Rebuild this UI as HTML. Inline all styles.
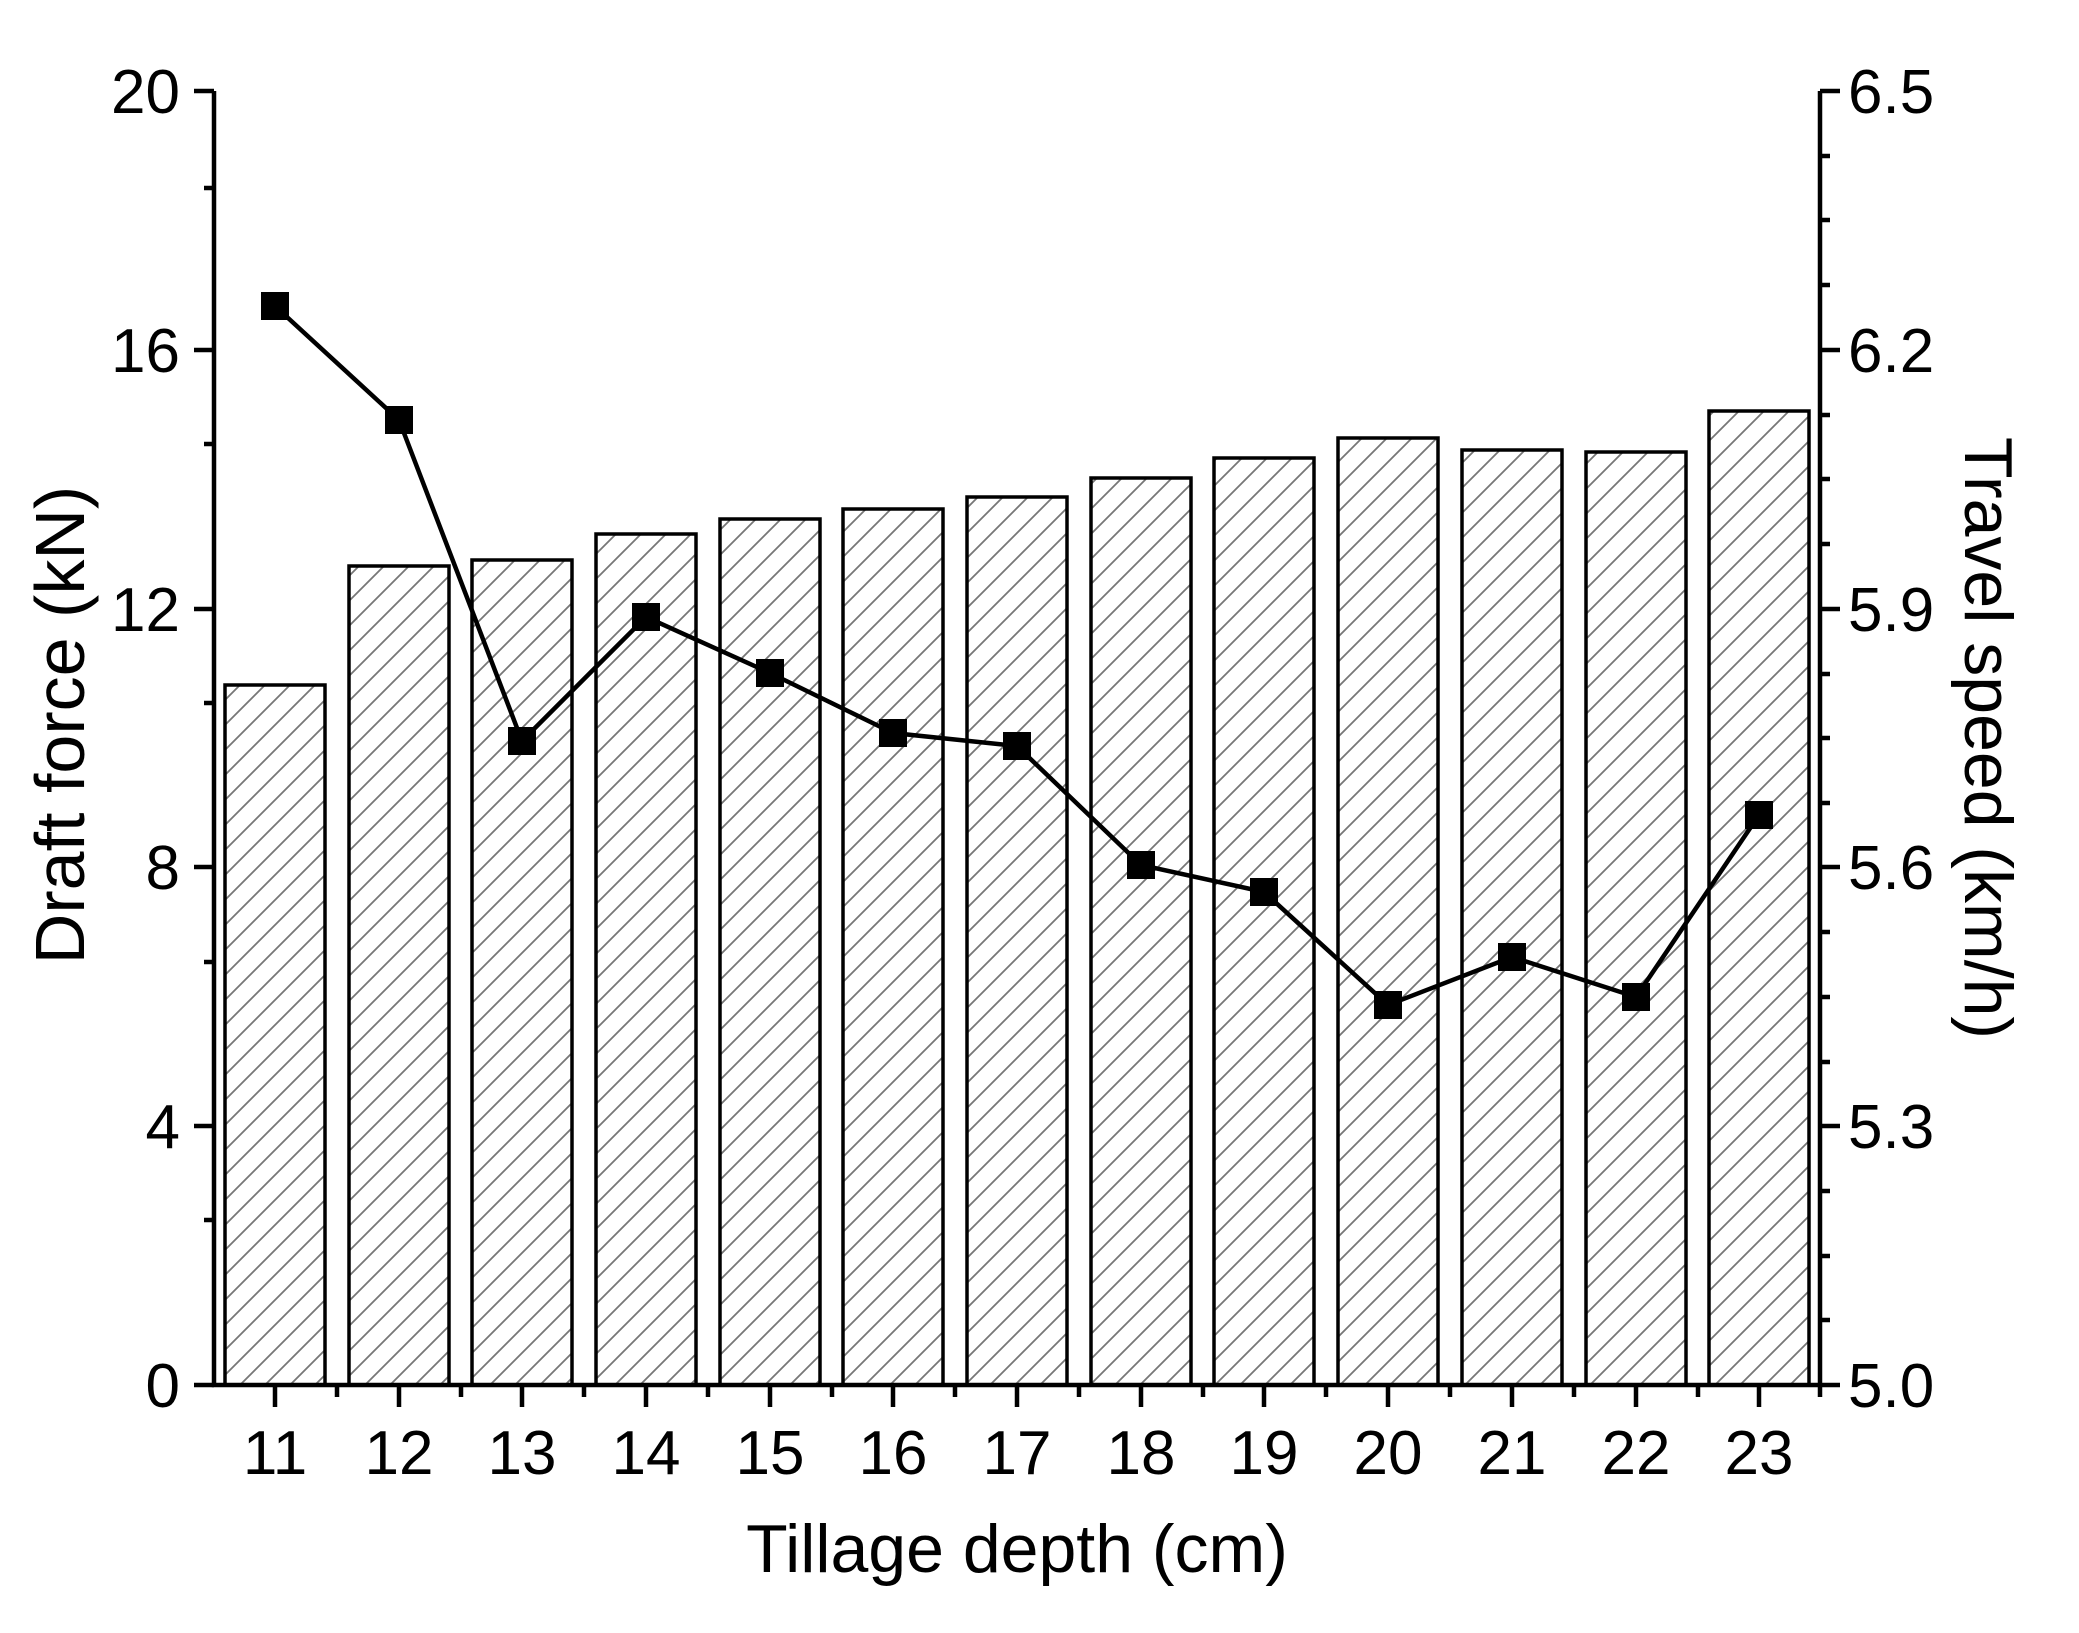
<!DOCTYPE html>
<html><head><meta charset="utf-8"><style>html,body{margin:0;padding:0;background:#fff}</style></head>
<body>
<svg width="2079" height="1628" viewBox="0 0 2079 1628" xmlns="http://www.w3.org/2000/svg" font-family="Liberation Sans, Arial, sans-serif">
<defs>
<pattern id="h" patternUnits="userSpaceOnUse" width="25" height="25">
<rect width="25" height="25" fill="#fff"/>
<path d="M-5,5 L5,-5 M0,25 L25,0 M20,30 L30,20" stroke="#777" stroke-width="1.8"/>
</pattern>
</defs>
<g stroke="#000" stroke-width="3.5" fill="url(#h)">
<rect x="225" y="685" width="100" height="700"/>
<rect x="349" y="566" width="100" height="819"/>
<rect x="472" y="560" width="100" height="825"/>
<rect x="596" y="534" width="100" height="851"/>
<rect x="720" y="519" width="100" height="866"/>
<rect x="843" y="509" width="100" height="876"/>
<rect x="967" y="497" width="100" height="888"/>
<rect x="1091" y="478" width="100" height="907"/>
<rect x="1214" y="458" width="100" height="927"/>
<rect x="1338" y="438" width="100" height="947"/>
<rect x="1462" y="450" width="100" height="935"/>
<rect x="1586" y="452" width="100" height="933"/>
<rect x="1709" y="411" width="100" height="974"/>
</g>
<polyline fill="none" stroke="#000" stroke-width="4.5" points="275,306 399,420 522,741 646,617 770,673 893,733 1017,746 1141,865 1264,892 1388,1005 1512,957 1636,997 1759,815"/>
<g fill="#000">
<rect x="261" y="292" width="28" height="28"/><rect x="385" y="406" width="28" height="28"/><rect x="508" y="727" width="28" height="28"/><rect x="632" y="603" width="28" height="28"/><rect x="756" y="659" width="28" height="28"/><rect x="879" y="719" width="28" height="28"/><rect x="1003" y="732" width="28" height="28"/><rect x="1127" y="851" width="28" height="28"/><rect x="1250" y="878" width="28" height="28"/><rect x="1374" y="991" width="28" height="28"/><rect x="1498" y="943" width="28" height="28"/><rect x="1622" y="983" width="28" height="28"/><rect x="1745" y="801" width="28" height="28"/>
</g>
<g stroke="#000" stroke-width="4.5" fill="none">
<path d="M214,91 V1385 H1820 M1820,91 V1385"/>
<path d="M194,91H214 M204,188H214 M194,350H214 M204,444H214 M194,609H214 M204,703H214 M194,867H214 M204,962H214 M194,1126H214 M204,1220H214 M194,1385H214"/>
<path d="M1820,91H1840 M1820,156H1830 M1820,220H1830 M1820,285H1830 M1820,350H1840 M1820,415H1830 M1820,479H1830 M1820,544H1830 M1820,609H1840 M1820,674H1830 M1820,738H1830 M1820,803H1830 M1820,867H1840 M1820,932H1830 M1820,997H1830 M1820,1062H1830 M1820,1126H1840 M1820,1191H1830 M1820,1256H1830 M1820,1320H1830 M1820,1385H1840"/>
<path d="M275,1385v22 M399,1385v22 M522,1385v22 M646,1385v22 M770,1385v22 M893,1385v22 M1017,1385v22 M1141,1385v22 M1264,1385v22 M1388,1385v22 M1512,1385v22 M1636,1385v22 M1759,1385v22 M337,1385v12 M461,1385v12 M584,1385v12 M708,1385v12 M832,1385v12 M955,1385v12 M1079,1385v12 M1203,1385v12 M1326,1385v12 M1450,1385v12 M1574,1385v12 M1698,1385v12 M1820,1385v12"/>
</g>
<g font-size="62" fill="#000" text-anchor="end">
<text x="180" y="113">20</text><text x="180" y="372">16</text><text x="180" y="631">12</text><text x="180" y="889">8</text><text x="180" y="1148">4</text><text x="180" y="1407">0</text>
</g>
<g font-size="62" fill="#000">
<text x="1848" y="113">6.5</text><text x="1848" y="372">6.2</text><text x="1848" y="631">5.9</text><text x="1848" y="889">5.6</text><text x="1848" y="1148">5.3</text><text x="1848" y="1407">5.0</text>
</g>
<g font-size="62" fill="#000" text-anchor="middle">
<text x="275" y="1474">11</text><text x="399" y="1474">12</text><text x="522" y="1474">13</text><text x="646" y="1474">14</text><text x="770" y="1474">15</text><text x="893" y="1474">16</text><text x="1017" y="1474">17</text><text x="1141" y="1474">18</text><text x="1264" y="1474">19</text><text x="1388" y="1474">20</text><text x="1512" y="1474">21</text><text x="1636" y="1474">22</text><text x="1759" y="1474">23</text>
</g>
<text x="1017" y="1572" font-size="68" text-anchor="middle">Tillage depth (cm)</text>
<text transform="translate(84,725) rotate(-90)" font-size="70" text-anchor="middle">Draft force (kN)</text>
<text transform="translate(1965,738) rotate(90)" font-size="68" text-anchor="middle">Travel speed (km/h)</text>
</svg>
</body></html>
